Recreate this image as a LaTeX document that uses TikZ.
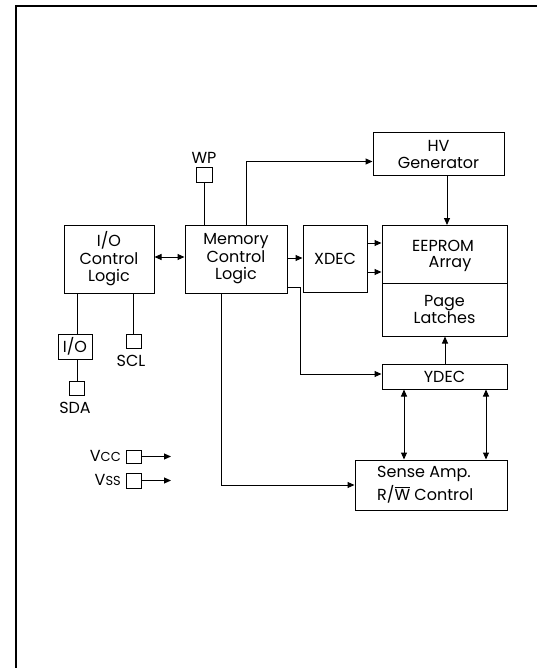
\documentclass[tikz,border=0pt]{standalone}
\usepackage{fontspec}
\setmainfont{Poppins}
\usetikzlibrary{arrows.meta}
\begin{document}
\begin{tikzpicture}[x=1pt,y=-1pt,
  blk/.style={draw,line width=1pt,rectangle,inner sep=0pt,align=center,font=\fontsize{16}{17.5}\selectfont},
  pin/.style={draw,line width=1pt,rectangle,inner sep=0pt,minimum width=15pt,minimum height=14pt},
  lbl/.style={inner sep=0pt,font=\fontsize{16}{17.5}\selectfont},
  wire/.style={line width=1pt},
  arr/.style={line width=1pt,-{Triangle[length=7pt,width=6pt]}},
  darr/.style={line width=1pt,{Triangle[length=7pt,width=6pt]}-{Triangle[length=7pt,width=6pt]}}]
\useasboundingbox (0,0) rectangle (537,668);
\draw[line width=2pt] (15.5,668) -- (15.5,6.5) -- (537,6.5);
% blocks
\node[blk,minimum width=90pt,minimum height=68pt] (io) at (109,259) {I/O\\Control\\Logic};
\node[blk,minimum width=102pt,minimum height=68pt] (mcl) at (236,259) {Memory\\Control\\Logic};
\node[blk,minimum width=64pt,minimum height=67pt] (xdec) at (335,258.5) {XDEC};
\node[blk,minimum width=131pt,minimum height=43pt] (hv) at (438.5,154.5) {HV\\Generator};
\node[blk,minimum width=125pt,minimum height=58pt] (ee) at (444.5,254) {};
\node[lbl] (eet) at (443,246) {EEPROM};
\node[lbl] (eea) at (450,264) {Array};
\node[blk,minimum width=125pt,minimum height=53pt] (pl) at (444.5,309.5) {Page\\Latches};
\node[blk,minimum width=125pt,minimum height=25pt] (ydec) at (444.5,376.5) {YDEC};
\node[blk,minimum width=152pt,minimum height=50pt] (sa) at (431,485) {};
\node[lbl,anchor=west] (sa1) at (377,474) {Sense Amp.};
\node[lbl,anchor=west] (sa2) at (377,494) {R/$\overline{\mbox{W}}$ Control};
% pins
\node[pin,minimum width=16pt,minimum height=15pt] (wp) at (204,175.5) {};
\node[lbl] (wpl) at (204,158) {WP};
\node[blk,minimum width=34pt,minimum height=25pt] (iop) at (75,346.5) {I/O};
\node[pin] (sda) at (77,388) {};
\node[lbl] (sdal) at (75,408) {SDA};
\node[pin] (scl) at (133.5,341) {};
\node[lbl] (scll) at (131,361) {SCL};
\node[pin,minimum height=13pt] (vcc) at (133.5,456.5) {};
\node[pin,minimum height=15pt] (vss) at (133.5,480.5) {};
\node[lbl,anchor=east] (vccl) at (121,456) {V{\fontsize{13}{15}\selectfont CC}};
\node[lbl,anchor=east] (vssl) at (121,480) {V{\fontsize{13}{15}\selectfont SS}};
\coordinate (vcce) at (171,456.5);
\coordinate (vsse) at (171,480.5);
% connectors
\draw[darr] (io.east |- 0,257) -- (mcl.west |- 0,257);
\draw[wire] (wp.south) -- (wp.south |- mcl.north);
\draw[arr] (mcl.north -| 246,0) -- (246,161.5) -- (hv.west |- 0,161.5);
\draw[arr] (hv.south -| 447,0) -- (447,225);
\draw[arr] (mcl.east |- 0,258) -- (xdec.west |- 0,258);
\draw[arr] (xdec.east |- 0,243) -- (ee.west |- 0,243);
\draw[arr] (xdec.east |- 0,272) -- (ee.west |- 0,272);
\draw[arr] (mcl.east |- 0,287) -- (300,287) -- (300,374) -- (ydec.west |- 0,374);
\draw[arr] (ydec.north -| 445,0) -- (pl.south -| 445,0);
\draw[darr] (ydec.south -| 404,0) -- (sa.north -| 404,0);
\draw[darr] (ydec.south -| 486,0) -- (sa.north -| 486,0);
\draw[arr] (mcl.south -| 221,0) -- (221,485) -- (sa.west);
\draw[wire] (io.south -| 77,0) -- (iop.north -| 77,0);
\draw[wire] (iop.south -| 77,0) -- (sda.north);
\draw[wire] (io.south -| 133.5,0) -- (scl.north);
\draw[arr] (vcc.east) -- (vcce);
\draw[arr] (vss.east) -- (vsse);
\end{tikzpicture}
\end{document}
